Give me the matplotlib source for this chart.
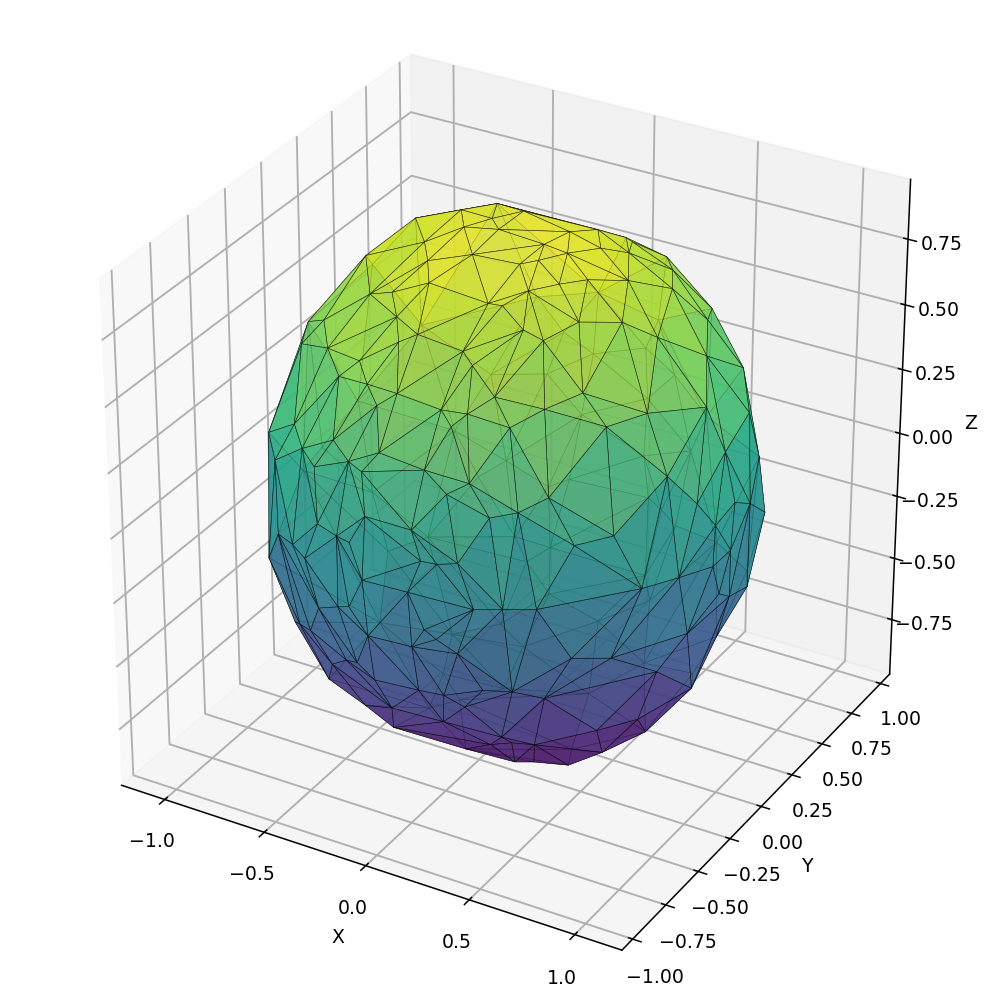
import numpy as np
import matplotlib
matplotlib.use("Agg")
import matplotlib.pyplot as plt
from matplotlib.tri import Triangulation

plt.rcParams["grid.linewidth"] = 1.0

# mesh vertices
x = [-0.41,-0.32,-0.22,-0.11,-0.27,-0.60,-0.38,-0.09,-0.27,-0.19,0.12,-0.74,-0.73,-0.34,-0.46,0.11,0.17,-0.68,-0.88,-0.25,-0.11,-0.18,-0.32,-0.55,-0.80,0.11,0.18,-0.42,-0.25,-0.08,0.31,0.12,0.23,-0.17,0.40,0.18,
     -0.62,-0.88,-0.34,-0.52,-0.72,-0.10,-0.24,-0.42,-0.15,0.12,0.31,-0.14,0.12,0.14,0.22,0.12,0.28,0.25,0.23,0.32,0.36,0.17,0.37,0.46,0.45,0.30,0.54,0.22,0.45,0.57,0.58,0.59,0.30,0.38,0.68,0.79,
     0.77,0.59,0.79,0.90,0.89,0.49,0.70,0.98,0.91,0.89,-0.64,-0.52,-0.36,-0.24,-0.11,-0.18,-0.44,0.11,0.23,0.41,0.51,0.16,0.23,0.32,-0.10,0.11,-0.80,-0.37,-0.24,-0.18,0.40,0.49,-0.64,-0.58,0.18,0.23,
     -0.09,0.12,0.31,-0.47,-0.38,-0.26,-0.18,-0.11,0.11,0.23,0.39,0.49,-0.47,-0.29,-0.09,0.29,0.16,-0.18,0.36,0.08,0.28,0.32,0.60,0.82,0.72,0.99,1.03,1.05,1.03,1.02,1.01,1.04,0.99,0.91,1.03,1.02,
     0.95,1.01,0.61,0.98,0.90,0.71,0.82,0.90,0.85,0.59,0.65,0.71,0.73,0.44,0.48,0.49,0.38,0.37,0.91,0.64,0.26,-0.12,0.45,-0.16,0.11,0.31,-0.17,0.25,-0.31,-0.23,-0.39,0.61,0.33,0.24,0.15,-0.31,
     -0.27,-0.23,-0.36,-0.44,-0.30,-0.66,-0.78,-0.69,-0.89,0.35,0.10,0.43,-0.23,-0.50,-0.22,0.09,0.24,-0.39,-0.17,0.09,-0.30,0.18,-0.11,-0.39,-0.59,-0.71,-1.01,-1.01,-0.97,-0.59,-0.80]
y = [0.25,0.38,0.19,0.07,0.06,0.20,-0.06,-0.15,-0.20,-0.31,-0.13,0.09,0.03,-0.35,-0.33,-0.34,-0.33,-0.34,-0.17,-0.45,-0.51,-0.54,-0.61,-0.50,-0.33,-0.52,-0.56,-0.61,-0.66,-0.70,-0.60,-0.69,-0.67,-0.71,-0.63,-0.71,
     -0.64,-0.46,-0.77,-0.73,-0.64,-0.80,-0.81,-0.79,-0.85,-0.81,-0.78,0.30,0.24,0.42,0.51,0.05,0.22,0.51,0.05,0.37,0.60,-0.07,-0.02,0.14,0.50,-0.12,0.35,-0.22,-0.21,-0.08,0.60,0.55,-0.38,-0.36,0.01,0.21,
     0.54,-0.40,-0.24,0.03,0.39,-0.52,-0.40,0.05,-0.28,0.48,-0.74,-0.81,-0.86,-0.90,-0.89,-0.90,-0.84,-0.89,-0.82,-0.79,-0.74,-0.90,-0.89,-0.88,-0.93,-0.92,-0.59,-0.85,-0.90,-0.91,-0.89,-0.82,-0.64,-0.69,-0.91,-0.90,
     -0.91,-0.91,-0.87,-0.77,-0.75,-0.82,-0.86,-0.84,-0.85,-0.85,-0.81,-0.75,-0.65,-0.65,-0.75,-0.79,-0.75,-0.61,-0.63,-0.47,-0.59,-0.47,-0.66,-0.53,-0.66,-0.18,-0.10,-0.01,0.05,0.19,0.33,-0.13,-0.31,-0.46,-0.06,0.04,
     0.30,0.20,-0.76,-0.22,0.15,-0.66,-0.54,-0.32,0.05,-0.67,-0.37,-0.15,-0.12,-0.51,-0.29,-0.33,-0.42,-0.57,-0.06,-0.31,0.19,0.12,0.32,0.33,0.50,0.59,0.55,0.65,0.59,0.65,0.62,0.63,0.76,0.79,0.83,0.76,
     -0.22,-0.05,0.02,0.21,0.37,-0.01,0.23,0.40,0.28,0.84,0.87,0.83,0.80,0.72,0.88,0.91,0.88,0.87,0.89,0.89,0.86,0.84,0.83,0.79,0.64,0.64,0.09,-0.05,0.30,0.74,0.53]
z = [0.86,0.85,0.89,0.92,0.90,0.81,0.87,0.92,0.88,0.86,0.92,0.65,0.71,0.81,0.77,0.86,0.86,0.63,0.51,0.78,0.77,0.74,0.67,0.62,0.51,0.76,0.74,0.59,0.62,0.64,0.67,0.62,0.62,0.58,0.59,0.58,
     0.38,0.21,0.44,0.35,0.22,0.46,0.40,0.33,0.40,0.45,0.43,0.89,0.89,0.83,0.78,0.92,0.87,0.77,0.91,0.80,0.70,0.92,0.87,0.82,0.71,0.88,0.72,0.88,0.81,0.78,0.55,0.53,0.82,0.79,0.71,0.58,
     0.39,0.66,0.56,0.49,0.31,0.63,0.56,0.33,0.37,0.10,0.00,0.02,0.16,0.16,0.26,0.15,0.00,0.26,0.39,0.33,0.35,0.16,0.16,0.18,0.04,0.04,-0.20,-0.17,-0.11,-0.09,0.03,0.02,-0.39,-0.36,-0.09,-0.12,
     -0.18,-0.17,-0.17,-0.32,-0.44,-0.36,-0.33,-0.39,-0.37,-0.36,-0.32,-0.33,-0.57,-0.63,-0.54,-0.42,-0.53,-0.71,-0.60,-0.80,-0.67,-0.79,0.39,0.24,0.24,0.24,0.13,0.00,0.15,0.08,-0.02,-0.01,0.02,0.03,-0.15,-0.21,
     -0.25,-0.25,0.02,-0.24,-0.45,-0.19,-0.22,-0.36,-0.56,-0.37,-0.63,-0.68,-0.74,-0.67,-0.79,-0.83,-0.80,-0.65,-0.55,-0.75,-0.86,-0.90,-0.75,-0.84,-0.75,-0.66,-0.73,-0.60,-0.65,-0.60,-0.58,-0.37,-0.43,-0.40,-0.39,-0.42,
     -0.85,-0.89,-0.85,-0.80,-0.80,-0.70,-0.55,-0.55,-0.36,-0.16,-0.25,0.00,-0.39,-0.34,-0.16,-0.04,0.10,-0.03,0.09,0.17,0.16,0.32,0.37,0.31,-0.39,-0.23,-0.12,-0.15,-0.02,-0.02,0.22]

x_ticks = [-1.0, -0.5, 0.0, 0.5, 1.0]
y_ticks = [-1.0, -0.75, -0.5, -0.25, 0.0, 0.25, 0.5, 0.75, 1.0]
z_ticks = [-0.75, -0.5, -0.25, 0.0, 0.25, 0.5, 0.75]


def sphere_triangles(x, y, z):
    """Triangles of the closed mesh: Delaunay after a stereographic projection from a back vertex."""
    pts = np.column_stack([x, y, z]) / np.array([1.05, 0.93, 0.93])
    pts = pts / np.linalg.norm(pts, axis=1, keepdims=True)
    view = np.array([0.433, -0.75, 0.5])
    pole = int(np.argmin(pts @ view))
    p = pts[pole]
    e1 = np.cross(p, [0.0, 0.0, 1.0])
    e1 = e1 / np.linalg.norm(e1)
    e2 = np.cross(p, e1)
    others = np.array([i for i in range(len(x)) if i != pole])
    d = 1.0 - pts[others] @ p
    tri = Triangulation(pts[others] @ e1 / d, pts[others] @ e2 / d)
    triangles = [others[t].tolist() for t in tri.triangles]
    # close the hole round the pole with the hull edges
    for t, nb in zip(tri.triangles, tri.neighbors):
        for k in range(3):
            if nb[k] == -1:
                triangles.append([others[t[k]], others[t[(k + 1) % 3]], pole])
    return np.array(triangles)


W, H = 996, 1002
D = 136
fig = plt.figure(figsize=(W / D, H / D), dpi=D)
ax = fig.add_axes([0.0135, 0.0175, 0.975, 0.97], projection="3d")
ax.set_box_aspect((1, 1, 1))

ax.plot_trisurf(x, y, z, triangles=sphere_triangles(x, y, z), cmap="viridis",
                alpha=0.7, edgecolor="k", linewidth=0.3)

ax.set_xlim(-1.22, 1.22)
ax.set_ylim(-1.08, 1.08)
ax.set_zlim(-0.975, 0.975)
ax.set_xticks(x_ticks)
ax.set_yticks(y_ticks)
ax.set_zticks(z_ticks)
ax.set_xlabel("X")
ax.set_ylabel("Y")
ax.set_zlabel("Z")

fig.savefig("out.png", dpi=D)
